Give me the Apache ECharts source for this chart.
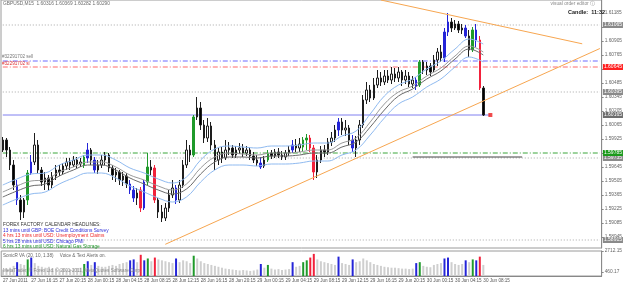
<!DOCTYPE html>
<html><head><meta charset="utf-8">
<script src="https://cdn.jsdelivr.net/npm/echarts@6.0.0/dist/echarts.min.js"></script>
<style>html,body{margin:0;padding:0;background:#fff;overflow:hidden}#chart{width:625px;height:285px}</style>
</head><body><div id="chart"></div>
<script>
// ---------------- data ----------------
const timeLabels = ["27 Jun 2011","27 Jun 16:15","27 Jun 20:15","28 Jun 00:15","28 Jun 04:15","28 Jun 08:15","28 Jun 12:15","28 Jun 16:15","28 Jun 20:15","29 Jun 00:15","29 Jun 04:15","29 Jun 08:15","29 Jun 12:15","29 Jun 16:15","29 Jun 20:15","30 Jun 00:15","30 Jun 04:15","30 Jun 08:15"];
const priceTicks = [1.61185,1.61045,1.60905,1.60765,1.60625,1.60485,1.60345,1.60205,1.60065,1.59925,1.59785,1.59645,1.59505,1.59365,1.59225,1.59085,1.58945];
const volumeTicks = [460.17, 2712.15];

const open = [1.59815,1.59915,1.59815,1.59665,1.59465,1.59315,1.59195,1.59315,1.59585,1.59695,1.59865,
1.59615,1.59495,1.59535,1.59465,1.59555,1.59615,1.59595,1.59655,1.59695,1.59665,
1.59715,1.59675,1.59665,1.59735,1.59815,1.59715,1.59615,1.59665,1.59715,1.59765,
1.59635,1.59565,1.59595,1.59515,1.59555,1.59475,1.59415,1.59335,1.59415,1.59235,
1.59495,1.59645,1.59635,1.59315,1.59195,1.59135,1.59235,1.59365,1.59435,1.59315,
1.59465,1.59665,1.59815,1.59765,1.60145,1.60235,1.60065,1.59935,1.60055,1.59865,
1.59715,1.59795,1.59735,1.59815,1.59835,1.59765,1.59815,1.59835,1.59785,1.59815,
1.59755,1.59715,1.59685,1.59655,1.59715,1.59785,1.59755,1.59795,1.59765,1.59745,
1.59785,1.59815,1.59865,1.59835,1.59845,1.59915,1.59935,1.59835,1.59595,1.59715,
1.59815,1.59795,1.59895,1.59935,1.60015,1.60095,1.60015,1.60035,1.59915,1.59835,
1.59915,1.60065,1.60315,1.60415,1.60335,1.60465,1.60535,1.60495,1.60555,1.60515,
1.60575,1.60535,1.60595,1.60515,1.60555,1.60475,1.60515,1.60465,1.60695,1.60615,
1.60655,1.60615,1.60715,1.60795,1.60735,1.60995,1.61095,1.61035,1.61075,1.61015,
1.61035,1.60955,1.60815,1.61015,1.60915,1.60435];
const close = [1.59915,1.59815,1.59665,1.59465,1.59315,1.59195,1.59315,1.59585,1.59695,1.59865,1.59615,
1.59495,1.59535,1.59465,1.59555,1.59615,1.59595,1.59655,1.59695,1.59665,1.59715,
1.59675,1.59695,1.59745,1.59815,1.59715,1.59615,1.59665,1.59715,1.59765,1.59635,
1.59565,1.59595,1.59515,1.59555,1.59475,1.59415,1.59335,1.59385,1.59235,1.59495,
1.59645,1.59615,1.59315,1.59195,1.59135,1.59235,1.59365,1.59435,1.59315,1.59465,
1.59665,1.59815,1.59765,1.60145,1.60235,1.60065,1.59935,1.60055,1.59865,1.59715,
1.59795,1.59735,1.59815,1.59835,1.59765,1.59815,1.59835,1.59785,1.59815,1.59755,
1.59715,1.59685,1.59645,1.59715,1.59785,1.59755,1.59795,1.59765,1.59745,1.59785,
1.59815,1.59865,1.59835,1.59875,1.59915,1.59935,1.59835,1.59595,1.59715,1.59815,
1.59795,1.59895,1.59935,1.60015,1.60095,1.60015,1.60035,1.59915,1.59835,1.59915,
1.60065,1.60315,1.60415,1.60335,1.60465,1.60535,1.60495,1.60555,1.60515,1.60575,
1.60535,1.60595,1.60515,1.60555,1.60475,1.60515,1.60455,1.60695,1.60615,1.60655,
1.60595,1.60715,1.60795,1.60735,1.60995,1.61095,1.61035,1.61075,1.61015,1.61035,
1.60955,1.60815,1.61015,1.60915,1.60435,1.60165];
const low = [1.59795,1.59745,1.59615,1.59415,1.59265,1.59115,1.59135,1.59265,1.59565,1.59665,1.59585,
1.59455,1.59415,1.59415,1.59435,1.59515,1.59555,1.59575,1.59615,1.59615,1.59645,
1.59635,1.59645,1.59635,1.59685,1.59665,1.59585,1.59575,1.59635,1.59665,1.59595,
1.59515,1.59495,1.59465,1.59455,1.59435,1.59375,1.59295,1.59265,1.59195,1.59215,
1.59465,1.59565,1.59285,1.59135,1.59095,1.59105,1.59195,1.59335,1.59275,1.59285,
1.59435,1.59635,1.59695,1.59745,1.60115,1.60015,1.59885,1.59895,1.59815,1.59615,
1.59665,1.59685,1.59715,1.59765,1.59735,1.59735,1.59775,1.59745,1.59755,1.59715,
1.59685,1.59655,1.59625,1.59635,1.59695,1.59725,1.59735,1.59735,1.59715,1.59715,
1.59755,1.59785,1.59795,1.59795,1.59795,1.59815,1.59795,1.59515,1.59535,1.59685,
1.59745,1.59765,1.59855,1.59895,1.59955,1.59965,1.59955,1.59865,1.59795,1.59745,
1.59865,1.60035,1.60275,1.60295,1.60315,1.60435,1.60455,1.60465,1.60485,1.60475,
1.60495,1.60495,1.60455,1.60475,1.60445,1.60435,1.60415,1.60445,1.60575,1.60565,
1.60555,1.60595,1.60655,1.60695,1.60695,1.60955,1.60995,1.61015,1.60985,1.60975,
1.60935,1.60745,1.60795,1.60845,1.60415,1.60155];
const high = [1.59945,1.59935,1.59845,1.59715,1.59515,1.59365,1.59335,1.59615,1.59765,1.59985,1.59915,
1.59645,1.59595,1.59565,1.59595,1.59665,1.59665,1.59685,1.59735,1.59735,1.59755,
1.59745,1.59735,1.59765,1.59885,1.59835,1.59745,1.59715,1.59765,1.59795,1.59785,
1.59665,1.59635,1.59615,1.59595,1.59585,1.59515,1.59455,1.59435,1.59445,1.59515,
1.59785,1.59715,1.59665,1.59335,1.59265,1.59285,1.59415,1.59515,1.59465,1.59515,
1.59715,1.59915,1.59865,1.60165,1.60345,1.60295,1.60115,1.60135,1.60095,1.59915,
1.59835,1.59845,1.59915,1.59895,1.59865,1.59855,1.59885,1.59875,1.59855,1.59845,
1.59795,1.59765,1.59745,1.59755,1.59815,1.59815,1.59825,1.59835,1.59805,1.59815,
1.59855,1.59915,1.59925,1.59935,1.59945,1.59975,1.59965,1.59865,1.59765,1.59855,
1.59865,1.59935,1.59995,1.60065,1.60135,1.60135,1.60115,1.60065,1.59965,1.59955,
1.60115,1.60365,1.60495,1.60465,1.60535,1.60615,1.60595,1.60615,1.60615,1.60645,
1.60635,1.60645,1.60615,1.60615,1.60595,1.60555,1.60545,1.60715,1.60715,1.60695,
1.60685,1.60765,1.60835,1.60865,1.61035,1.61185,1.61135,1.61115,1.61105,1.61075,
1.61065,1.61015,1.61045,1.61075,1.60955,1.60455];
const volume = [700,800,900,1100,1500,1300,1200,1800,2000,1400,1100,
1000,900,1000,850,800,750,800,700,750,800,850,900,
1300,1600,1200,1500,1100,1000,1000,1100,1200,1100,1300,1400,1500,
1700,1800,1500,2300,1700,1900,1600,2000,1800,1700,1600,1500,1400,1900,1500,
1700,1600,1400,2200,1900,1600,1400,1300,1200,1100,
1000,900,800,750,700,650,600,650,600,550,600,700,1300,900,1200,800,700,750,650,700,750,
1500,1000,1100,1500,1700,2000,2400,1800,1600,1500,1400,1300,1200,2100,1400,1300,1200,1800,1500,
1600,1900,1700,1500,1300,1200,1100,1000,950,900,900,850,800,800,750,800,1400,
1500,1100,1000,950,1200,1300,1400,1900,2000,1500,1300,1200,1300,1700,1500,1800,1700,2100,1200];
// VSA highlight tags per bar: b = blue, g = green, r = red
const barTags = {4:'b',7:'g',8:'b',23:'g',24:'b',26:'b',36:'b',37:'b',39:'r',40:'b',41:'g',43:'r',49:'b',54:'g',73:'b',75:'g',82:'b',85:'g',86:'g',87:'r',88:'r',95:'b',99:'b',117:'b',118:'g',125:'b',126:'b',131:'b',133:'g',134:'b',135:'r'};

// moving averages / bands, one value every maStep bars
const maStep = 4;
const maFast = [1.59395,1.59455,1.59505,1.59515,1.59595,1.59645,1.59695,1.59695,1.59645,1.59565,1.59515,1.59455,1.59415,1.59475,1.59635,1.59745,1.59785,1.59775,1.59765,1.59785,1.59785,1.59795,1.59815,1.59815,1.59885,1.59935,1.60095,1.60275,1.60395,1.60455,1.60555,1.60635,1.60755,1.60855,1.60795];
const maSlow = [1.59345,1.59405,1.59455,1.59475,1.59555,1.59615,1.59665,1.59665,1.59615,1.59535,1.59475,1.59415,1.59375,1.59425,1.59575,1.59695,1.59745,1.59745,1.59735,1.59755,1.59755,1.59765,1.59785,1.59785,1.59845,1.59895,1.60045,1.60215,1.60355,1.60425,1.60525,1.60605,1.60725,1.60825,1.60765];
const bandUpper = [1.59465,1.59525,1.59575,1.59585,1.59665,1.59715,1.59765,1.59765,1.59715,1.59635,1.59585,1.59525,1.59485,1.59545,1.59715,1.59825,1.59855,1.59845,1.59835,1.59855,1.59855,1.59865,1.59885,1.59885,1.59955,1.60005,1.60175,1.60355,1.60465,1.60525,1.60625,1.60705,1.60825,1.60925,1.60875];
const bandLower = [1.59265,1.59325,1.59375,1.59395,1.59475,1.59535,1.59585,1.59585,1.59535,1.59455,1.59395,1.59335,1.59295,1.59345,1.59495,1.59615,1.59665,1.59665,1.59655,1.59675,1.59675,1.59685,1.59705,1.59705,1.59765,1.59815,1.59965,1.60135,1.60275,1.60345,1.60445,1.60525,1.60645,1.60745,1.60695];

// horizontal levels and trend lines (bar index, price)
const grayLevels = [1.61065, 1.60395, 1.59735, 1.58915];
const blueLevel = 1.60705;
const redLevel = 1.60645;
const greenLevel = 1.59785;
const supportSegment = [[116, 1.59745], [147, 1.59745]];
const upperTrend = [[107, 1.61315], [164, 1.60877]];
const lowerTrend = [[46, 1.58872], [169, 1.60830]];
const markerIndex = 138;
const priceMin = 1.58835, priceMax = 1.61315;
const volumeMax = 2712.15;
const slotCount = 170;

// ---------------- chart ----------------
const tagColor = {b:'#2424d8', g:'#1f9a2a', r:'#f2213b'};
const FONT = '"Liberation Sans", Arial, sans-serif';
const cats = Array.from({length: slotCount}, (_, i) => i);
const lastPrice = close[close.length - 1];
const lastSlot = slotCount - 1;

const candleData = open.map((o, i) => {
  const item = {value: [o, close[i], low[i], high[i]]};
  const t = barTags[i];
  if (t) item.itemStyle = {color: tagColor[t], color0: tagColor[t], borderColor: tagColor[t], borderColor0: tagColor[t]};
  return item;
});
const volData = volume.map((v, i) => {
  const t = barTags[i];
  return t ? {value: v, itemStyle: {color: tagColor[t]}} : v;
});
const maSeries = (arr) => arr.map((v, k) => [k * maStep, v]);
const dashDot = [5, 2, 1, 2];

function level(p, lineStyle, boxColor, fromIdx, toIdx) {
  return {
    type: 'line', xAxisIndex: 0, yAxisIndex: 0, symbol: 'none', z: 2, silent: true,
    data: [[fromIdx == null ? 0 : fromIdx, p], [toIdx == null ? lastSlot : toIdx, p]],
    lineStyle: lineStyle,
    endLabel: boxColor ? {show: true, formatter: () => p.toFixed(5), distance: 3,
      backgroundColor: boxColor, color: '#fff', fontSize: 5, fontFamily: FONT, padding: [1, 1, 0, 1]} : {show: false}
  };
}
const levelSeries = [
  ...grayLevels.map(p => level(p, {color: '#a6a6a6', type: [1, 2], width: 1}, '#8a8a8a')),
  level(blueLevel, {color: '#6b6bff', type: dashDot, width: 1}, null),
  level(redLevel, {color: '#ff6a6a', type: dashDot, width: 1}, '#ff2020'),
  level(greenLevel, {color: '#3aa63a', type: dashDot, width: 1}, '#1c9a1c'),
  level(lastPrice, {opacity: 0}, '#6e6e6e'),
  level(lastPrice, {color: '#8080f0', type: 'solid', width: 1}, null, 0, markerIndex),
  level(supportSegment[0][1], {color: '#444444', type: 'solid', width: 1}, null, supportSegment[0][0], supportSegment[1][0])
];

const chart = echarts.init(document.getElementById('chart'), null, {renderer: 'canvas'});
const showTime = (i) => i % 8 === 0 && i / 8 < timeLabels.length;

chart.setOption({
  animation: false,
  backgroundColor: '#ffffff',
  textStyle: {fontFamily: FONT},
  grid: [
    {left: 1, right: 17, top: 0, height: 248, show: true, borderColor: '#9a9a9a', borderWidth: 1, backgroundColor: '#fff'},
    {left: 1, right: 17, top: 251, height: 25, show: true, borderColor: '#9a9a9a', borderWidth: 1}
  ],
  xAxis: [
    {type: 'category', gridIndex: 0, data: cats, boundaryGap: true, show: false},
    {type: 'category', gridIndex: 1, data: cats, boundaryGap: true,
      axisLine: {lineStyle: {color: '#888'}},
      axisTick: {interval: (i) => showTime(i), length: 2, lineStyle: {color: '#666'}},
      axisLabel: {interval: (i) => showTime(i), formatter: (v, i) => timeLabels[i / 8] || '',
        fontSize: 4.6, color: '#555', align: 'left', margin: 2}}
  ],
  yAxis: [
    {type: 'value', gridIndex: 0, position: 'right', min: priceMin, max: priceMax,
      splitLine: {show: false},
      axisLine: {show: true, lineStyle: {color: '#8a8a8a'}},
      axisTick: {show: true, customValues: priceTicks, length: 2, lineStyle: {color: '#888'}},
      axisLabel: {customValues: priceTicks, formatter: v => v.toFixed(5), fontSize: 4.8, color: '#666', margin: 3}},
    {type: 'value', gridIndex: 1, position: 'right', min: 0, max: volumeMax,
      splitLine: {show: false},
      axisLine: {show: true, lineStyle: {color: '#8a8a8a'}},
      axisTick: {show: true, customValues: volumeTicks, length: 2, lineStyle: {color: '#888'}},
      axisLabel: {customValues: volumeTicks, formatter: v => v.toFixed(2), fontSize: 4.8, color: '#666', margin: 3}}
  ],
  series: [
    ...levelSeries,
    {type: 'candlestick', xAxisIndex: 0, yAxisIndex: 0, data: candleData, barWidth: 2, z: 3,
      itemStyle: {color: '#ffffff', color0: '#000000', borderColor: '#1e1e1e', borderColor0: '#1e1e1e', borderWidth: 1}},
    {type: 'line', data: maSeries(bandUpper), smooth: 0.4, symbol: 'none', z: 4, lineStyle: {color: '#8fbaf0', width: 1}},
    {type: 'line', data: maSeries(maFast), smooth: 0.4, symbol: 'none', z: 4, lineStyle: {color: '#9a9a9a', width: 1}},
    {type: 'line', data: maSeries(maSlow), smooth: 0.4, symbol: 'none', z: 4, lineStyle: {color: '#6a6a6a', width: 1}},
    {type: 'line', data: maSeries(bandLower), smooth: 0.4, symbol: 'none', z: 4, lineStyle: {color: '#8fbaf0', width: 1}},
    {type: 'line', data: upperTrend, symbol: 'none', z: 5, lineStyle: {color: '#f7a650', width: 1}},
    {type: 'line', data: lowerTrend, symbol: 'none', z: 5, lineStyle: {color: '#f7a650', width: 1}},
    {type: 'scatter', data: [[markerIndex, lastPrice]], symbol: 'rect', symbolSize: 4, z: 6, itemStyle: {color: '#ee2020'}},
    {type: 'bar', xAxisIndex: 1, yAxisIndex: 1, data: volData, barWidth: 2, itemStyle: {color: '#cfcfcf'}}
  ],
  graphic: [
    {type: 'text', left: 3, top: 1, z: 10, style: {text: 'GBPUSD,M15  1.60316 1.60369 1.60282 1.60290', font: '4.8px ' + FONT, fill: '#6a6a6a'}},
    {type: 'text', right: 30, top: 1, z: 10, style: {text: 'visual order editor ⓘ', font: '4.8px ' + FONT, fill: '#888'}},
    {type: 'text', right: 20, top: 9, z: 10, style: {text: 'Candle:  11:32', font: 'bold 5.5px ' + FONT, fill: '#222'}},
    {type: 'text', left: 2, top: 54, z: 10, style: {text: '#32291702 sell', font: '4.6px ' + FONT, fill: '#777'}},
    {type: 'text', left: 2, top: 61, z: 10, style: {text: '#32291702 sl', font: '4.6px ' + FONT, fill: '#e03030'}},
    {type: 'text', left: 3, top: 222, z: 10, style: {text: 'FOREX FACTORY CALENDAR HEADLINES:', font: '4.8px ' + FONT, fill: '#333'}},
    {type: 'text', left: 3, top: 228, z: 10, style: {text: '13 mins until GBP: BOE Credit Conditions Survey', font: '4.8px ' + FONT, fill: '#2b2bd8'}},
    {type: 'text', left: 3, top: 233.5, z: 10, style: {text: '4 hrs 13 mins until USD: Unemployment Claims', font: '4.8px ' + FONT, fill: '#ee2a2a'}},
    {type: 'text', left: 3, top: 239, z: 10, style: {text: '5 hrs 28 mins until USD: Chicago PMI', font: '4.8px ' + FONT, fill: '#2b2bd8'}},
    {type: 'text', left: 3, top: 244.5, z: 10, style: {text: '6 hrs 13 mins until USD: Natural Gas Storage', font: '4.8px ' + FONT, fill: '#20962a'}},
    {type: 'text', left: 3, top: 253, z: 10, style: {text: 'SonicR VA (20, 10, 1.38)     Voice & Text Alerts on.', font: '4.6px ' + FONT, fill: '#666'}},
    {type: 'text', left: 3, top: 268, z: 10, style: {text: 'MetaTrader, © Forex Ltd. © 2001-2011, MetaQuotes Software Corp.', font: '4.6px ' + FONT, fill: '#888'}}
  ]
});
</script>
</body></html>
